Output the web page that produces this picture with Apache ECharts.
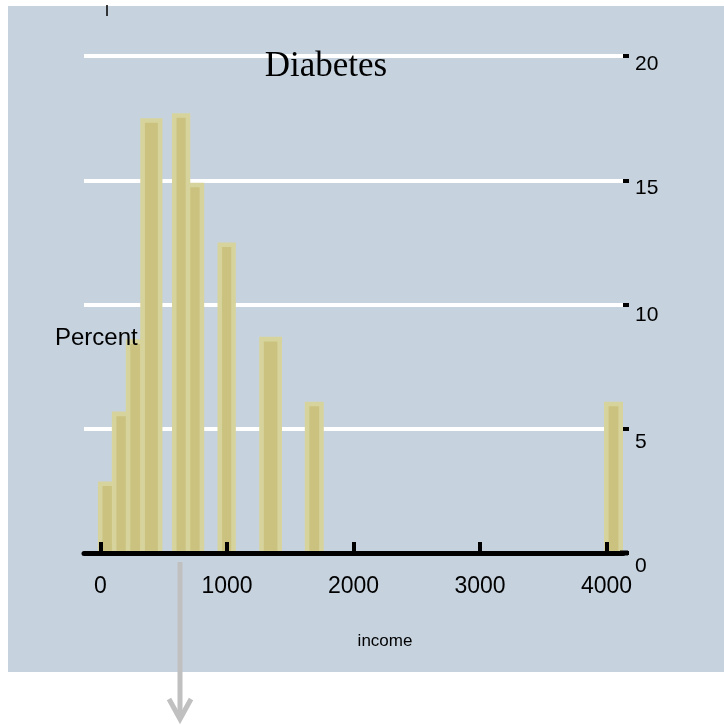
<!DOCTYPE html>
<html>
<head>
<meta charset="utf-8">
<script src="https://cdn.jsdelivr.net/npm/echarts@6/dist/echarts.min.js"></script>
<style>
html,body{margin:0;padding:0;background:#fff;}
#chart{width:724px;height:725px;}
</style>
</head>
<body>
<div id="chart"></div>
<script>
// Data (listed in drawing order)
const binStart = [-20, 90, 200, 315, 670, 565, 925, 1255, 1615, 3980];
const binEnd   = [130, 240, 350, 490, 820, 710, 1070, 1435, 1765, 4130];
const percent  = [2.88, 5.69, 8.6, 17.5, 14.9, 17.7, 12.5, 8.7, 6.09, 6.09];
const xTickValues = [0, 1000, 2000, 3000, 4000];
const yTickValues = [0, 5, 10, 15, 20];
const titleText = 'Diabetes';
const xName = 'income';
const yName = 'Percent';

const data = binStart.map((s, i) => [s, binEnd[i], percent[i]]);

const chart = echarts.init(document.getElementById('chart'), null, {renderer: 'canvas'});
const SANS = '"Liberation Sans", Arial, sans-serif';
const BW = 4.6;
const yLab = (lh) => ({fontSize: 21, fontFamily: SANS, color: '#000', lineHeight: lh});

chart.setOption({
  backgroundColor: '#ffffff',
  animation: false,
  grid: {left: 84, top: 56, width: 539, height: 497, containLabel: false},
  xAxis: {
    type: 'value',
    min: -130, max: 4130,
    z: 10,
    axisLine: {show: true, onZero: false, lineStyle: {color: '#000', width: 5}},
    axisTick: {show: true, inside: true, length: 11, lineStyle: {color: '#000', width: 4}, customValues: xTickValues},
    axisLabel: {show: true, margin: 22, fontSize: 23, fontFamily: SANS, color: '#000', customValues: xTickValues,
      formatter: (v) => String(v)},
    splitLine: {show: false}
  },
  yAxis: {
    type: 'value',
    position: 'right',
    min: yTickValues[0], max: yTickValues[yTickValues.length - 1], interval: 5,
    axisLine: {show: false, onZero: false},
    axisTick: {show: true, inside: false, length: 6, lineStyle: {color: '#000', width: 4}},
    axisLabel: {show: true, margin: 12, fontSize: 21, fontFamily: SANS, color: '#000', verticalAlign: 'top',
      formatter: (v) => '{o' + v + '|' + v + '}',
      rich: {o0: yLab(26), o5: yLab(26), o10: yLab(22), o15: yLab(15), o20: yLab(16)}},
    splitLine: {show: true, lineStyle: {color: '#ffffff', width: 4}}
  },
  series: [{
    type: 'custom',
    data: data,
    encode: {x: [0, 1], y: 2},
    z: 5,
    renderItem: function (params, api) {
      const x0 = api.value(0), x1 = api.value(1), v = api.value(2);
      const tl = api.coord([x0, v]);
      const br = api.coord([x1, 0]);
      const h = BW / 2;
      return {
        type: 'rect',
        shape: {x: tl[0] + h, y: tl[1] + h, width: br[0] - tl[0] - BW, height: br[1] - tl[1] - h},
        style: {fill: '#cac27e', stroke: '#d7d39c', lineWidth: BW}
      };
    }
  }],
  graphic: [
    {type: 'rect', z: -100, silent: true, shape: {x: 8, y: 6, width: 716, height: 666}, style: {fill: '#c6d3df'}},
    {type: 'line', z: 100, shape: {x1: 107, y1: 5, x2: 107, y2: 16}, style: {stroke: '#000', lineWidth: 1.5}},
    {type: 'line', z: 100, shape: {x1: 620, y1: 553, x2: 628, y2: 553}, style: {stroke: '#000', lineWidth: 5}},
    {type: 'text', z: 100, x: 326, y: 67, style: {text: titleText, font: '35px "Liberation Serif", "Times New Roman", serif', fill: '#000', align: 'center', verticalAlign: 'middle'}},
    {type: 'text', z: 100, x: 55, y: 338, style: {text: yName, font: '24px ' + SANS, fill: '#000', align: 'left', verticalAlign: 'middle'}},
    {type: 'text', z: 100, x: 385, y: 641, style: {text: xName, font: '17px ' + SANS, fill: '#000', align: 'center', verticalAlign: 'middle'}},
    {type: 'line', z: 100, shape: {x1: 180, y1: 562, x2: 180, y2: 719}, style: {stroke: '#c0c0c0', lineWidth: 5}},
    {type: 'polyline', z: 100, shape: {points: [[169, 699], [180, 719], [191, 699]]}, style: {stroke: '#c0c0c0', lineWidth: 5, fill: null, lineJoin: 'miter'}}
  ]
});
</script>
</body>
</html>
